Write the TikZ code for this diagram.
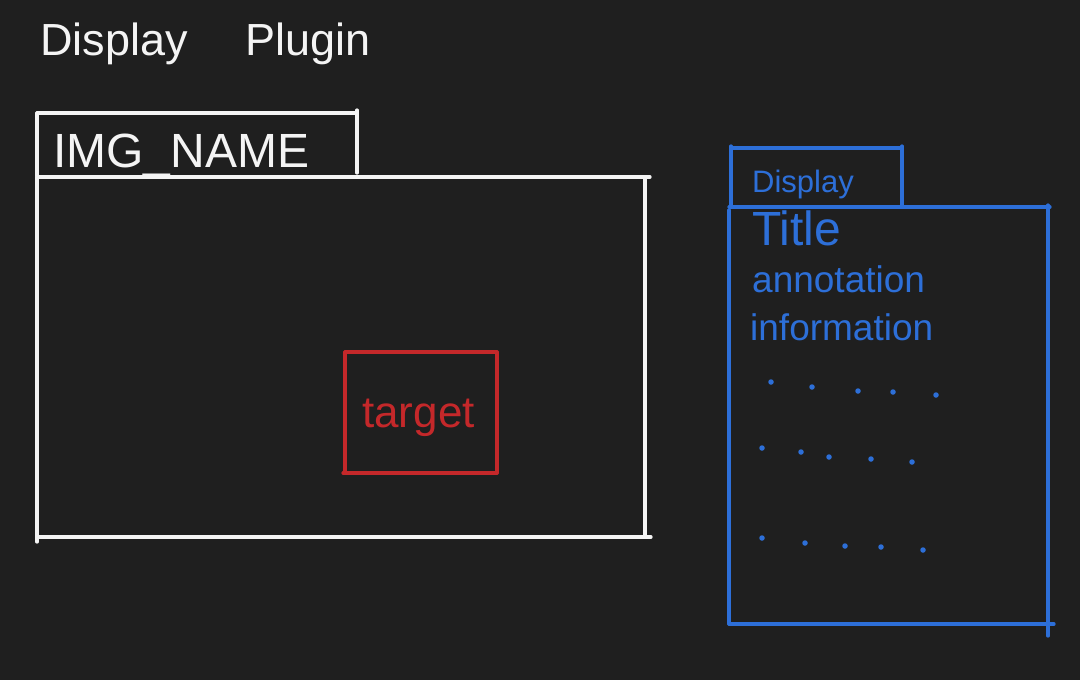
\documentclass[tikz,border=0pt]{standalone}
\usepackage{fontspec}
\setmainfont{Liberation Sans}
\definecolor{bg}{HTML}{1F1F1F}
\definecolor{inkw}{HTML}{F4F4F4}
\definecolor{inkr}{HTML}{C4282A}
\definecolor{inkb}{HTML}{2D6FD8}
\begin{document}
\begin{tikzpicture}[x=1pt,y=-1pt,
  wline/.style={draw=inkw,line width=3.2pt,line cap=round},
  rline/.style={draw=inkr,line width=3.2pt,line cap=round},
  bline/.style={draw=inkb,line width=3.2pt,line cap=round},
  wtext/.style={text=inkw,inner sep=0pt,anchor=base west},
  rtext/.style={text=inkr,inner sep=0pt,anchor=base west},
  btext/.style={text=inkb,inner sep=0pt,anchor=base west},
  bdot/.style={fill=inkb,draw=none,circle,minimum size=5.5pt,inner sep=0pt}]
\fill[bg] (0,0) rectangle (1080,680);
\useasboundingbox (0,0) rectangle (1080,680);
% title
\node[wtext,font=\fontsize{45}{50}\selectfont] (t1) at (40,55) {Display};
\node[wtext,font=\fontsize{45}{50}\selectfont] (t2) at (245,55) {Plugin};
% IMG_NAME tab
\draw[wline] (37,113) -- (357,113);
\draw[wline] (357,110) -- (357,173);
\draw[wline] (37,113) -- (37,176);
\node[wtext,font=\fontsize{48}{52}\selectfont] (img) at (53,167) {IMG\_NAME};
% main box
\draw[wline] (37,177) -- (650,177);
\draw[wline] (37,177) -- (37,542);
\draw[wline] (645,177) -- (645,537);
\draw[wline] (37,537) -- (651,537);
% target
\draw[rline] (345,352) -- (497,352);
\draw[rline] (345,352) -- (345,473);
\draw[rline] (497,352) -- (497,473);
\draw[rline] (343,473) -- (497,473);
\node[rtext,font=\fontsize{44}{48}\selectfont] (tg) at (362,427) {target};
% Display tab
\draw[bline] (731,148) -- (902,148);
\draw[bline] (731,146) -- (731,207);
\draw[bline] (902,146) -- (902,207);
\node[btext,font=\fontsize{31}{35}\selectfont] (dsp) at (752,192) {Display};
% Display box
\draw[bline] (729,207) -- (1050,207);
\draw[bline] (729,210) -- (729,624);
\draw[bline] (1048,205) -- (1048,636);
\draw[bline] (729,624) -- (1054,624);
\node[btext,font=\fontsize{48}{52}\selectfont] (ttl) at (752,245) {Title};
\node[btext,font=\fontsize{37}{41}\selectfont] (ann) at (752,292) {annotation};
\node[btext,font=\fontsize{37}{41}\selectfont] (inf) at (750,340) {information};
% dots
\foreach \x/\y [count=\i] in {771/382,812/387,858/391,893/392,936/395,
  762/448,801/452,829/457,871/459,912/462,
  762/538,805/543,845/546,881/547,923/550}
  \node[bdot] (d\i) at (\x,\y) {};
\end{tikzpicture}
\end{document}
